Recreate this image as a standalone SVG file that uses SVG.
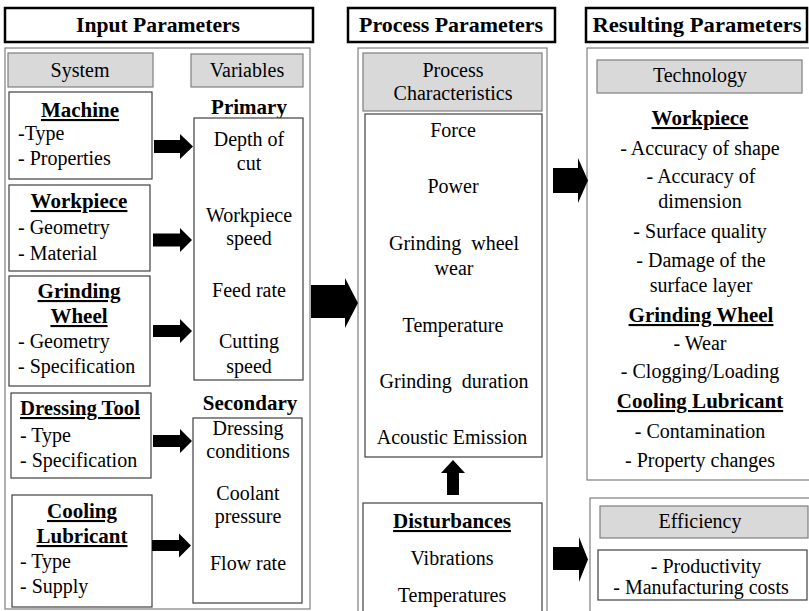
<svg xmlns="http://www.w3.org/2000/svg" width="809" height="611" viewBox="0 0 809 611" font-family="'Liberation Serif', 'DejaVu Serif', serif">
  <style>
    text { font-family: 'Liberation Serif', 'DejaVu Serif', serif; fill: #000; }
    .t { font-size: 20px; }
    .tc { font-size: 20px; text-anchor: middle; }
    .b { font-size: 21px; font-weight: bold; text-anchor: middle; }
    .bl { font-size: 21px; font-weight: bold; }
    .u { text-decoration: underline; }
    .h { font-size: 22px; font-weight: bold; text-anchor: middle; }
    .head { fill: #fff; stroke: #000; stroke-width: 2.5; }
    .outer { fill: #fff; stroke: #7f7f7f; stroke-width: 1.2; }
    .cat { fill: #d9d9d9; stroke: #7f7f7f; stroke-width: 1.2; }
    .box { fill: #fff; stroke: #404040; stroke-width: 1.2; }
    .arr { fill: #000; }
  </style>
  <rect width="809" height="611" fill="#fff"/>

  <!-- column headers -->
  <g id="hdr-input">
    <rect class="head" x="5" y="8" width="308" height="34"/>
    <text class="h" x="158" y="32" textLength="164" lengthAdjust="spacingAndGlyphs">Input Parameters</text>
  </g>
  <g id="hdr-process">
    <rect class="head" x="348" y="8" width="207" height="34"/>
    <text class="h" x="451" y="32" textLength="184" lengthAdjust="spacingAndGlyphs">Process Parameters</text>
  </g>
  <g id="hdr-result">
    <rect class="head" x="586" y="8" width="221" height="34"/>
    <text class="h" x="697" y="32" textLength="209" lengthAdjust="spacingAndGlyphs">Resulting Parameters</text>
  </g>

  <!-- input parameters column -->
  <g id="input-frame">
    <rect class="outer" x="5" y="48" width="305" height="561"/>
  </g>
  <g id="system">
    <rect class="cat" x="8" y="53" width="145" height="34"/>
    <text class="tc" x="80" y="77">System</text>
  </g>
  <g id="variables">
    <rect class="cat" x="191" y="54" width="112" height="33"/>
    <text class="tc" x="247" y="77">Variables</text>
  </g>
  <g id="machine">
    <rect class="box" x="9" y="92" width="143" height="87"/>
    <text class="b u" x="80" y="117">Machine</text>
    <text class="t" x="18" y="140">-Type</text>
    <text class="t" x="18" y="165">- Properties</text>
  </g>
  <g id="workpiece">
    <rect class="box" x="9" y="185" width="141" height="86"/>
    <text class="b u" x="79" y="208">Workpiece</text>
    <text class="t" x="18" y="234">- Geometry</text>
    <text class="t" x="18" y="260">- Material</text>
  </g>
  <g id="grinding-wheel">
    <rect class="box" x="9" y="276" width="141" height="110"/>
    <text class="b u" x="79" y="298">Grinding</text>
    <text class="b u" x="79" y="323">Wheel</text>
    <text class="t" x="18" y="348">- Geometry</text>
    <text class="t" x="18" y="373">- Specification</text>
  </g>
  <g id="dressing-tool">
    <rect class="box" x="11" y="393" width="140" height="85"/>
    <text class="bl u" x="20" y="415" textLength="120" lengthAdjust="spacingAndGlyphs">Dressing Tool</text>
    <text class="t" x="20" y="442">- Type</text>
    <text class="t" x="20" y="467">- Specification</text>
  </g>
  <g id="cooling-lubricant">
    <rect class="box" x="12" y="495" width="140" height="112"/>
    <text class="b u" x="82" y="518">Cooling</text>
    <text class="b u" x="82" y="543">Lubricant</text>
    <text class="t" x="20" y="568">- Type</text>
    <text class="t" x="20" y="593">- Supply</text>
  </g>
  <g id="primary">
    <text class="b" x="249" y="114">Primary</text>
    <rect class="box" x="194" y="118" width="109" height="262"/>
    <text class="tc" x="249" y="146">Depth of</text>
    <text class="tc" x="249" y="170">cut</text>
    <text class="tc" x="249" y="222">Workpiece</text>
    <text class="tc" x="249" y="245">speed</text>
    <text class="tc" x="249" y="297">Feed rate</text>
    <text class="tc" x="249" y="348">Cutting</text>
    <text class="tc" x="249" y="373">speed</text>
  </g>
  <g id="secondary">
    <text class="b" x="250" y="410">Secondary</text>
    <rect class="box" x="193" y="418" width="109" height="185"/>
    <text class="tc" x="248" y="435">Dressing</text>
    <text class="tc" x="248" y="458">conditions</text>
    <text class="tc" x="248" y="500">Coolant</text>
    <text class="tc" x="248" y="523">pressure</text>
    <text class="tc" x="248" y="570">Flow rate</text>
  </g>

  <!-- process parameters column -->
  <g id="process-frame">
    <rect class="outer" x="358" y="48" width="189" height="570"/>
  </g>
  <g id="process-characteristics">
    <rect class="cat" x="363" y="53" width="179" height="58"/>
    <text class="tc" x="453" y="77">Process</text>
    <text class="tc" x="453" y="100">Characteristics</text>
  </g>
  <g id="characteristics-list">
    <rect class="box" x="365" y="114" width="177" height="343"/>
    <text class="tc" x="453" y="137">Force</text>
    <text class="tc" x="453" y="193">Power</text>
    <text class="tc" x="454" y="250" xml:space="preserve">Grinding  wheel</text>
    <text class="tc" x="454" y="275">wear</text>
    <text class="tc" x="453" y="332">Temperature</text>
    <text class="tc" x="454" y="388" xml:space="preserve">Grinding  duration</text>
    <text class="tc" x="452" y="444">Acoustic Emission</text>
  </g>
  <g id="disturbances">
    <rect class="box" x="363" y="503" width="179" height="115"/>
    <text class="b u" x="452" y="528">Disturbances</text>
    <text class="tc" x="452" y="565">Vibrations</text>
    <text class="tc" x="452" y="602">Temperatures</text>
  </g>

  <!-- resulting parameters column -->
  <g id="technology">
    <rect class="outer" x="587" y="48" width="225" height="432"/>
    <rect class="cat" x="597" y="60" width="205" height="33"/>
    <text class="tc" x="700" y="82">Technology</text>
    <text class="b u" x="700" y="125">Workpiece</text>
    <text class="tc" x="700" y="155">- Accuracy of shape</text>
    <text class="tc" x="701" y="183">- Accuracy of</text>
    <text class="tc" x="700" y="208">dimension</text>
    <text class="tc" x="700" y="238">- Surface quality</text>
    <text class="tc" x="701" y="267">- Damage of the</text>
    <text class="tc" x="701" y="292">surface layer</text>
    <text class="b u" x="701" y="322">Grinding Wheel</text>
    <text class="tc" x="700" y="350">- Wear</text>
    <text class="tc" x="700" y="378">- Clogging/Loading</text>
    <text class="b u" x="700" y="408">Cooling Lubricant</text>
    <text class="tc" x="700" y="438">- Contamination</text>
    <text class="tc" x="700" y="467">- Property changes</text>
  </g>
  <g id="efficiency">
    <rect class="outer" x="590" y="498" width="222" height="120"/>
    <rect class="cat" x="600" y="506" width="208" height="32"/>
    <text class="tc" x="700" y="528">Efficiency</text>
    <rect class="box" x="598" y="550" width="209" height="50"/>
    <text class="tc" x="706" y="573">- Productivity</text>
    <text class="tc" x="701" y="594">- Manufacturing costs</text>
  </g>

  <!-- block arrows -->
  <g id="connectors" class="arr">
    <polygon points="154,140 180,140 180,134 193,146.5 180,159 180,153 154,153"/>
    <polygon points="153,233.5 180,233.5 180,228 192,240 180,252 180,246.5 153,246.5"/>
    <polygon points="153,325 180,325 180,319 192,331 180,343 180,337 153,337"/>
    <polygon points="153,435 180,435 180,429 192,441 180,453 180,447 153,447"/>
    <polygon points="152,540 179,540 179,533.5 191,545.5 179,557.5 179,551 152,551"/>
    <polygon points="311,285 345,285 345,278 358,303 345,328 345,318 311,318"/>
    <polygon points="553,168 578,168 578,158 588,180.5 578,203 578,193 553,193"/>
    <polygon points="553,547 579,547 579,537 588,559.5 579,582 579,570 553,570"/>
    <polygon points="447,495 447,473 441,473 453,460 465,473 459,473 459,495"/>
  </g>
</svg>
